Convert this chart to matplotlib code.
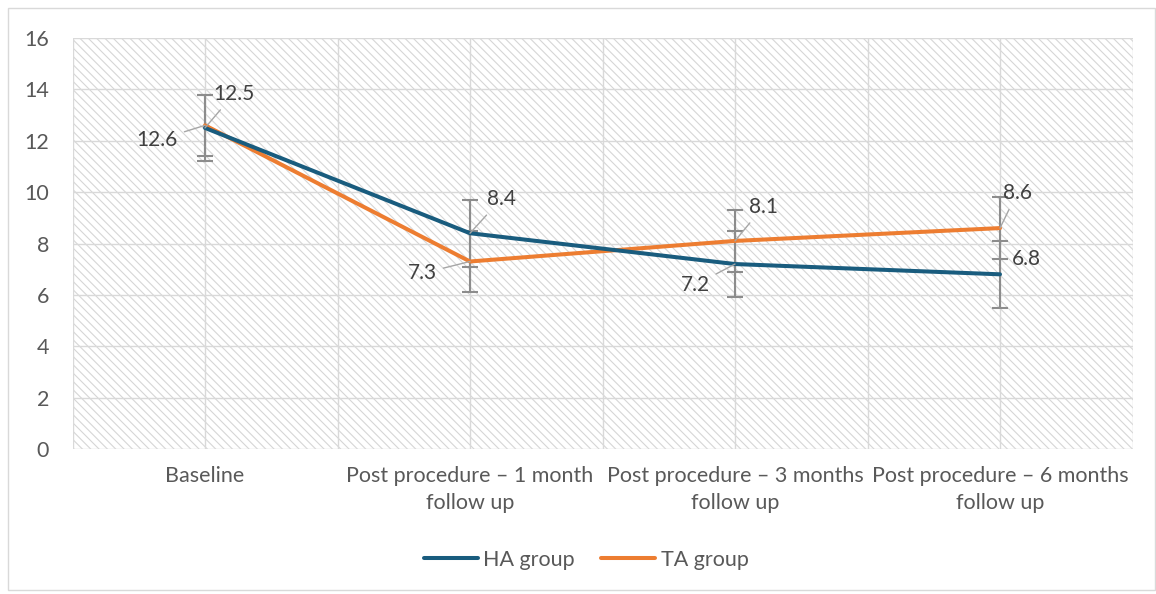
import matplotlib.pyplot as plt
import matplotlib.patches as mpatches
import numpy as np

plt.rcParams['font.family'] = ['Lato', 'DejaVu Sans']
plt.rcParams['hatch.color'] = '#d6d6d6'
plt.rcParams['hatch.linewidth'] = 0.8

# data
categories = ['Baseline', 'Post procedure \u2013 1 month\nfollow up',
              'Post procedure \u2013 3 months\nfollow up', 'Post procedure \u2013 6 months\nfollow up']
ha_values = [12.5, 8.4, 7.2, 6.8]
ta_values = [12.6, 7.3, 8.1, 8.6]
ha_err = [1.3, 1.3, 1.3, 1.3]
ta_err = [1.2, 1.2, 1.2, 1.2]
yticks = [0, 2, 4, 6, 8, 10, 12, 14, 16]

ha_color = '#195c7e'
ta_color = '#ed7d31'
err_color = '#8c8c8c'

fig = plt.figure(figsize=(11.56, 5.94), dpi=100)
ax = fig.add_axes([72.5 / 1156, 1 - 449 / 594, 1060 / 1156, 411 / 594])

x = np.arange(len(categories))

# hatched background
ax.add_patch(mpatches.Rectangle((-0.5, 0), 4, 16, facecolor='white', edgecolor='#d6d6d6',
                                hatch='\\\\\\\\', lw=0, zorder=0))

for y in yticks:
    ax.axhline(y, color='#d9d9d9', lw=1, zorder=1)
for xv in np.arange(-0.5, 4, 0.5):
    ax.axvline(xv, color='#d9d9d9', lw=1, zorder=1)

ax.errorbar(x, ha_values, yerr=ha_err, fmt='none', ecolor=err_color, elinewidth=1.5,
            capsize=6, capthick=1.5, zorder=2)
ax.errorbar(x, ta_values, yerr=ta_err, fmt='none', ecolor=err_color, elinewidth=1.5,
            capsize=6, capthick=1.5, zorder=2)

ax.plot(x, ha_values, color=ha_color, lw=2.9, label='HA group', zorder=4, solid_capstyle='round')
ax.plot(x, ta_values, color=ta_color, lw=2.9, label='TA group', zorder=3, solid_capstyle='round')

# data labels: (x index, value, offset in pixels, leader)
labels = [
    (0, ha_values[0], (29, 34), True),
    (0, ta_values[0], (-48, -15), True),
    (1, ha_values[1], (31, 34), True),
    (1, ta_values[1], (-48, -12), True),
    (2, ta_values[2], (28, 34), True),
    (2, ha_values[2], (-40, -21), True),
    (3, ta_values[3], (17, 35), True),
    (3, ha_values[3], (26, 15), False),
]
for xi, v, off, leader in labels:
    kw = {}
    if leader:
        kw['arrowprops'] = dict(arrowstyle='-', color='#a6a6a6', lw=1, shrinkA=3, shrinkB=0)
    ax.annotate(f'{v:.1f}', xy=(xi, v), xytext=off, textcoords='offset pixels',
                ha='center', va='center', fontsize=15, color='#404040', zorder=5, **kw)

ax.set_xlim(-0.5, 3.5)
ax.set_ylim(0, 16)
ax.set_yticks(yticks)
ax.set_xticks(x)
ax.set_xticklabels(categories, fontsize=15.5, color='#595959', linespacing=1.45)
ax.tick_params(axis='y', labelsize=15.5, labelcolor='#595959', length=0, pad=17)
ax.tick_params(axis='x', length=0, pad=12)
for s in ax.spines.values():
    s.set_visible(False)

leg = fig.legend(loc='center', bbox_to_anchor=(0.507, 1 - 560 / 594), ncol=2, frameon=False,
                 fontsize=15.5, handlelength=2.5, columnspacing=1.25, handletextpad=0.25)
for t in leg.get_texts():
    t.set_color('#595959')
for h in leg.get_lines():
    h.set_solid_capstyle('round')

# outer chart frame
fig.patches.append(mpatches.Rectangle((8 / 1156, 4 / 594), 1 - 8 / 1156 - 1 / 1156, 1 - 12 / 594,
                                      transform=fig.transFigure, fill=False,
                                      edgecolor='#d9d9d9', lw=1))

fig.savefig('out.png', dpi=100)
